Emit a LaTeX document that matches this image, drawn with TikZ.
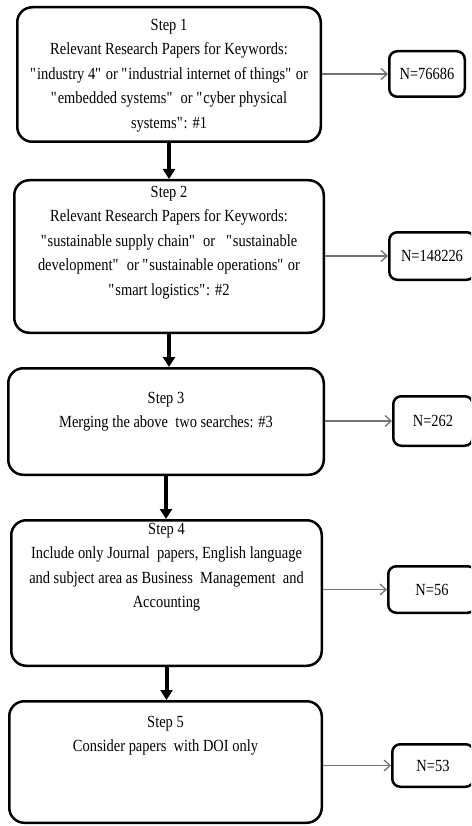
\documentclass[tikz,border=0pt]{standalone}
\usepackage{fontspec}
\setmainfont{Liberation Serif}[FakeStretch=0.85]
\usepackage{tikz}
\usetikzlibrary{positioning,arrows.meta}
\newcommand\qt[1]{\textquotedbl#1\textquotedbl}

\begin{document}
\begin{tikzpicture}[x=1pt,y=1pt]
		\tikzset{stepbox/.style={draw,line width=2.5pt,rounded corners=15pt,inner sep=0pt}};
		\tikzset{countbox/.style={draw,line width=2.5pt,rounded corners=8pt,inner sep=0pt,
				font=\fontsize{17}{24.5}\selectfont}};
		\tikzset{steptext/.style={align=center,inner sep=0pt,font=\fontsize{17}{24.5}\selectfont}};
		\tikzset{down/.style={line width=4pt,-{Triangle[width=12pt,length=10pt]}}};
		\tikzset{side/.style={draw=black!55,line width=1.3pt,-{Straight Barb[length=6pt,width=11pt]}}};
		
		\clip (0,0) rectangle (471,-826);
		
		% steps
		\node (s1) at (169,-74.5) [stepbox,minimum width=303.5pt,minimum height=134.5pt]{};
		\node (s2) at (169,-256.5) [stepbox,minimum width=309.5pt,minimum height=152.5pt]{};
		\node (s3) at (166,-421.5) [stepbox,minimum width=315.5pt,minimum height=106.5pt]{};
		\node (s4) at (166.5,-593) [stepbox,minimum width=310.5pt,minimum height=145.5pt]{};
		\node (s5) at (165.5,-762) [stepbox,minimum width=312.5pt,minimum height=121.5pt]{};
		
		\node (t1) [steptext,below=13pt of s1.north]{Step 1\\Relevant Research Papers for Keywords:\\
			\qt{industry 4} or \qt{industrial internet of things} or\\
			\qt{embedded systems}\ \ or \qt{cyber physical\\systems}: \#1};
		\node (t2) [steptext,below=7pt of s2.north]{Step 2\\Relevant Research Papers for Keywords:\\
			\qt{sustainable supply chain}\ \ or\ \ \ \qt{sustainable\\
			development}\ \ or \qt{sustainable operations} or\\\qt{smart logistics}: \#2};
		\node (t3) [steptext,below=25pt of s3.north]{Step 3\\Merging the above\ \ two searches: \#3};
		\node (t4) [steptext,below=4pt of s4.north]{Step 4\\Include only Journal\ \ papers, English language\\
			and subject area as Business\ \ Management\ \ and\\Accounting};
		\node (t5) [steptext,below=16pt of s5.north]{Step 5\\Consider papers\ \ with DOI only};
		
		% counts
		\node (n1) at (427,-74) [countbox,minimum width=75.5pt,minimum height=45.5pt]{N=76686};
		\node (n2) at (432,-256) [countbox,minimum width=85.5pt,minimum height=47.5pt]{N=148226};
		\node (n3) at (433,-421) [countbox,minimum width=79.5pt,minimum height=49.5pt]{N=262};
		\node (n4) at (432,-589.5) [countbox,minimum width=87.5pt,minimum height=46.5pt]{N=56};
		\node (n5) at (433,-765.5) [countbox,minimum width=81.5pt,minimum height=42.5pt]{N=53};
		
		\foreach \i/\j in {1/2,2/3,3/4,4/5}
		\draw [down] (s\i.south) -- (s\i.south |- s\j.north);
		\foreach \i in {1,...,5}
		\draw [side] (s\i.east |- n\i.west) -- (n\i.west);
\end{tikzpicture}
\end{document}
